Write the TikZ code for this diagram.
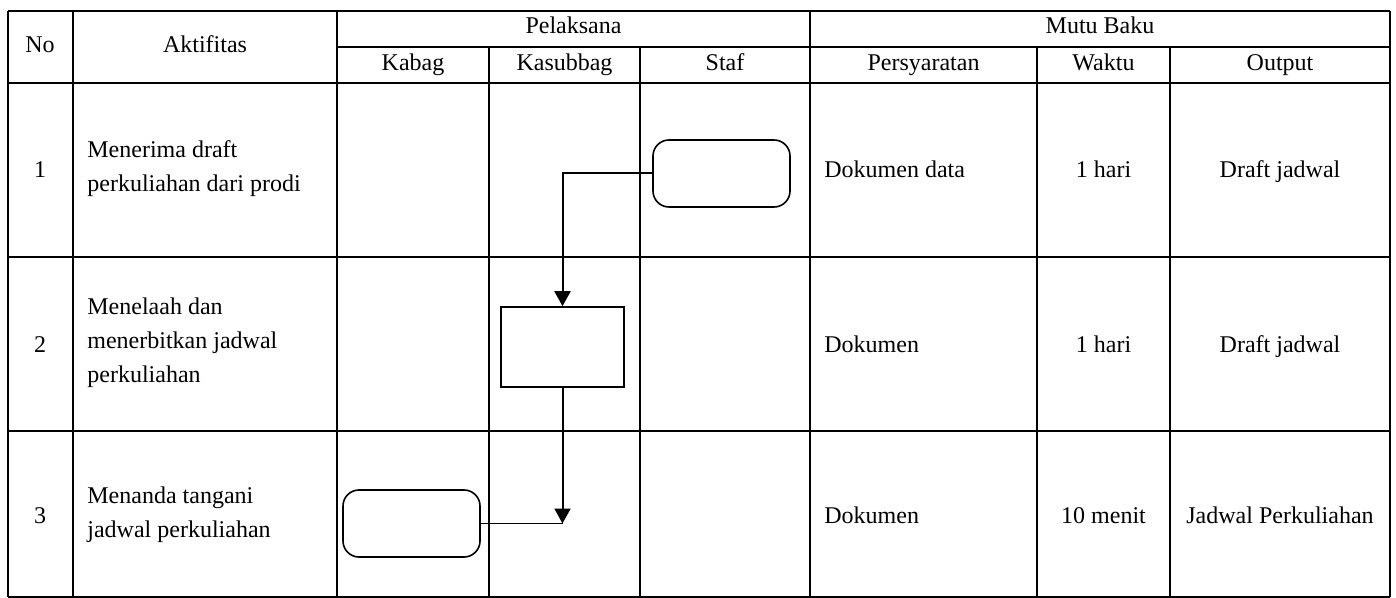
\documentclass[tikz,border=0pt]{standalone}
\usepackage{fontspec}
\setmainfont{Liberation Serif}
\usetikzlibrary{arrows.meta}

\tikzset{
  tabline/.style={line width=1.3pt},
  cell/.style={inner sep=0pt, anchor=base, font=\fontsize{12}{17}\selectfont},
  celltext/.style={cell, anchor=base west, align=left},
  terminal/.style={draw, line width=0.8pt, rounded corners=8pt, minimum width=68.5pt, minimum height=33.5pt},
  process/.style={draw, line width=0.8pt, minimum width=61.5pt, minimum height=40pt},
  flow/.style={line width=1pt, -{Triangle[width=8pt,length=7.5pt]}}
}

\begin{document}
\begin{tikzpicture}[x=0.5pt,y=-0.5pt]
\useasboundingbox (0,0) rectangle (1396,598);

% Garis tabel
\foreach \x in {8,73,337,810,1390}
  \draw[tabline] (\x,11) -- (\x,597);
\foreach \x in {489,640,1037,1170}
  \draw[tabline] (\x,47) -- (\x,597);
\foreach \y in {11,83,257,431,597}
  \draw[tabline] (8,\y) -- (1390,\y);
\draw[tabline] (337,47) -- (1390,47);

% Kepala tabel
\node[cell] (hno) at (40,53) {No};
\node[cell] (hakt) at (205,53) {Aktifitas};
\node[cell] (hpel) at (573.5,34) {Pelaksana};
\node[cell] (hmutu) at (1100,34) {Mutu Baku};
\node[cell] (hkabag) at (413,71) {Kabag};
\node[cell] (hkasub) at (564.5,71) {Kasubbag};
\node[cell] (hstaf) at (725,71) {Staf};
\node[cell] (hsyarat) at (923.5,71) {Persyaratan};
\node[cell] (hwaktu) at (1103.5,71) {Waktu};
\node[cell] (hout) at (1280,71) {Output};

% Baris 1
\node[cell] (no1) at (40,178) {1};
\node[celltext] (akt1) at (87,192) {Menerima draft\\perkuliahan dari prodi};
\node[celltext] (syarat1) at (824,178) {Dokumen data};
\node[cell] (waktu1) at (1103.5,178) {1 hari};
\node[cell] (out1) at (1280,178) {Draft jadwal};

% Baris 2
\node[cell] (no2) at (40,353) {2};
\node[celltext] (akt2) at (87,382) {Menelaah dan\\menerbitkan jadwal\\perkuliahan};
\node[celltext] (syarat2) at (824,353) {Dokumen};
\node[cell] (waktu2) at (1103.5,353) {1 hari};
\node[cell] (out2) at (1280,353) {Draft jadwal};

% Baris 3
\node[cell] (no3) at (40,523) {3};
\node[celltext] (akt3) at (87,537) {Menanda tangani\\jadwal perkuliahan};
\node[celltext] (syarat3) at (824,523) {Dokumen};
\node[cell] (waktu3) at (1103.5,523) {10 menit};
\node[cell] (out3) at (1280,523) {Jadwal Perkuliahan};

% Simbol alur
\node[terminal] (staf) at (721.5,173.5) {};
\node[process] (kasubbag) at (562.5,347) {};
\node[terminal] (kabag) at (411.5,523.5) {};

% Alur
\coordinate (temu) at (kasubbag.south |- kabag.east);
\draw[flow] (staf.west) -| (kasubbag.north);
\draw[flow] (kasubbag.south) -- (temu);
\draw[line width=0.8pt] (kabag.east) -- (temu);
\end{tikzpicture}
\end{document}
